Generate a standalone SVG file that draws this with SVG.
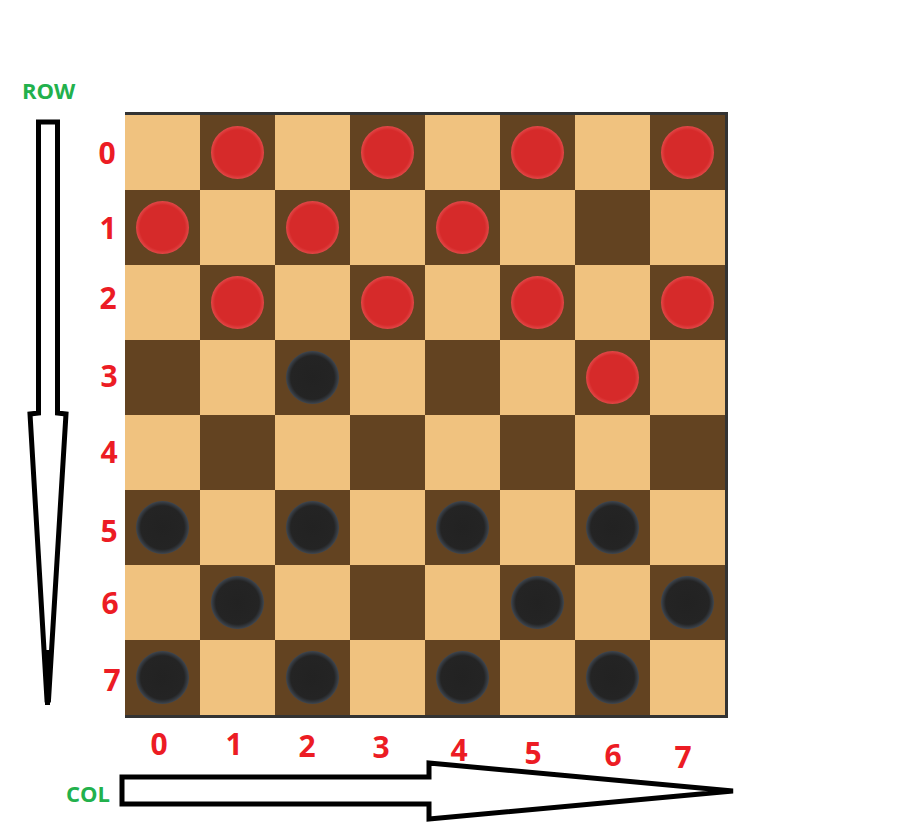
<svg xmlns="http://www.w3.org/2000/svg" width="906" height="834" viewBox="0 0 906 834">
<style>
.l{fill:#F0C27F}
.d{fill:#634321}
.lab{font-family:"Open Sans","Liberation Sans",sans-serif;font-weight:bold;font-size:30px;fill:#EC1C24;text-anchor:middle}
.ax{font-family:"Open Sans","Liberation Sans",sans-serif;font-weight:bold;font-size:22px;fill:#22B14C}
.arr{fill:#fff;stroke:#000;stroke-width:5;stroke-linejoin:miter}
.r{fill:url(#gr)}
.b{fill:url(#gb)}
</style>
<defs>
<radialGradient id="gr">
<stop offset="0" stop-color="#D62A2A"/>
<stop offset="0.85" stop-color="#D62A2A"/>
<stop offset="1" stop-color="#E24848"/>
</radialGradient>
<radialGradient id="gb">
<stop offset="0" stop-color="#222222"/>
<stop offset="0.82" stop-color="#242424"/>
<stop offset="1" stop-color="#3E4650"/>
</radialGradient>
</defs>
<rect width="906" height="834" fill="#fff"/>
<g id="board">
<rect x="125" y="112" width="603" height="606" fill="#333"/>
<rect x="125" y="115" width="600" height="600" class="l"/>
<g class="d">
<rect x="200" y="115" width="75" height="75"/><rect x="350" y="115" width="75" height="75"/><rect x="500" y="115" width="75" height="75"/><rect x="650" y="115" width="75" height="75"/>
<rect x="125" y="190" width="75" height="75"/><rect x="275" y="190" width="75" height="75"/><rect x="425" y="190" width="75" height="75"/><rect x="575" y="190" width="75" height="75"/>
<rect x="200" y="265" width="75" height="75"/><rect x="350" y="265" width="75" height="75"/><rect x="500" y="265" width="75" height="75"/><rect x="650" y="265" width="75" height="75"/>
<rect x="125" y="340" width="75" height="75"/><rect x="275" y="340" width="75" height="75"/><rect x="425" y="340" width="75" height="75"/><rect x="575" y="340" width="75" height="75"/>
<rect x="200" y="415" width="75" height="75"/><rect x="350" y="415" width="75" height="75"/><rect x="500" y="415" width="75" height="75"/><rect x="650" y="415" width="75" height="75"/>
<rect x="125" y="490" width="75" height="75"/><rect x="275" y="490" width="75" height="75"/><rect x="425" y="490" width="75" height="75"/><rect x="575" y="490" width="75" height="75"/>
<rect x="200" y="565" width="75" height="75"/><rect x="350" y="565" width="75" height="75"/><rect x="500" y="565" width="75" height="75"/><rect x="650" y="565" width="75" height="75"/>
<rect x="125" y="640" width="75" height="75"/><rect x="275" y="640" width="75" height="75"/><rect x="425" y="640" width="75" height="75"/><rect x="575" y="640" width="75" height="75"/>
</g>
</g>
<g id="red-pieces">
<circle class="r" cx="237.5" cy="152.5" r="26.5"/><circle class="r" cx="387.5" cy="152.5" r="26.5"/><circle class="r" cx="537.5" cy="152.5" r="26.5"/><circle class="r" cx="687.5" cy="152.5" r="26.5"/>
<circle class="r" cx="162.5" cy="227.5" r="26.5"/><circle class="r" cx="312.5" cy="227.5" r="26.5"/><circle class="r" cx="462.5" cy="227.5" r="26.5"/>
<circle class="r" cx="237.5" cy="302.5" r="26.5"/><circle class="r" cx="387.5" cy="302.5" r="26.5"/><circle class="r" cx="537.5" cy="302.5" r="26.5"/><circle class="r" cx="687.5" cy="302.5" r="26.5"/>
<circle class="r" cx="612.5" cy="377.5" r="26.5"/>
</g>
<g id="black-pieces">
<circle class="b" cx="312.5" cy="377.5" r="26.5"/>
<circle class="b" cx="162.5" cy="527.5" r="26.5"/><circle class="b" cx="312.5" cy="527.5" r="26.5"/><circle class="b" cx="462.5" cy="527.5" r="26.5"/><circle class="b" cx="612.5" cy="527.5" r="26.5"/>
<circle class="b" cx="237.5" cy="602.5" r="26.5"/><circle class="b" cx="537.5" cy="602.5" r="26.5"/><circle class="b" cx="687.5" cy="602.5" r="26.5"/>
<circle class="b" cx="162.5" cy="677.5" r="26.5"/><circle class="b" cx="312.5" cy="677.5" r="26.5"/><circle class="b" cx="462.5" cy="677.5" r="26.5"/><circle class="b" cx="612.5" cy="677.5" r="26.5"/>
</g>
<g id="row-labels" class="lab">
<text x="107" y="164">0</text>
<text x="108" y="239">1</text>
<text x="108" y="309">2</text>
<text x="109" y="387">3</text>
<text x="109" y="463">4</text>
<text x="109" y="542">5</text>
<text x="110" y="614">6</text>
<text x="112" y="691">7</text>
</g>
<g id="col-labels" class="lab">
<text x="159" y="755">0</text>
<text x="234" y="755">1</text>
<text x="307" y="757">2</text>
<text x="381" y="758">3</text>
<text x="459" y="761">4</text>
<text x="533" y="764">5</text>
<text x="613" y="766">6</text>
<text x="683" y="768">7</text>
</g>
<g id="connectors">
<g id="row-arrow">
<polygon class="arr" points="38.5,122 57.5,122 57.5,413 66,414 48.5,700 47,700 30,414 38.5,413"/>
<line x1="47.5" y1="650" x2="47.5" y2="705" stroke="#000" stroke-width="5"/>
</g>
<g id="col-arrow">
<polygon class="arr" points="122,777 429,777 429,763 733,791 429,819 429,804 122,804"/>
</g>
</g>
<text class="ax" x="22" y="99">ROW</text>
<text class="ax" x="66" y="802">COL</text>
</svg>
